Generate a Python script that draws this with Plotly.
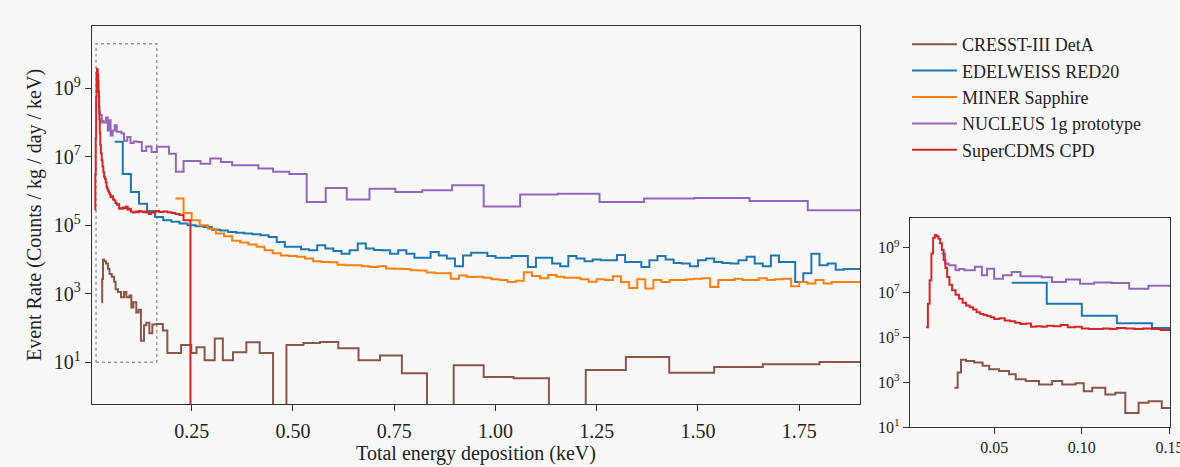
import plotly.graph_objects as go

# ---------------- data (bin edges in keV, log10 of event rate; None = empty bin) -------------
series_names = ["CRESST-III DetA", "EDELWEISS RED20", "MINER Sapphire",
                "NUCLEUS 1g prototype", "SuperCDMS CPD"]
series_colors = ["#8c564b", "#1f77b4", "#ff7f0e", "#9467bd", "#d62728"]

cresst_edges = [0.0273, 0.0292, 0.0311, 0.0339, 0.0386, 0.0434, 0.0472, 0.0528, 0.0585, 0.0623,
                0.068, 0.0756, 0.0831, 0.0888, 0.0964, 0.1011, 0.1059, 0.1134, 0.1191, 0.1248,
                0.1324, 0.1381, 0.1456, 0.153, 0.163, 0.179, 0.190, 0.224, 0.249, 0.262,
                0.282, 0.307, 0.327, 0.352, 0.385, 0.418, 0.451, 0.484, 0.526, 0.567,
                0.612, 0.662, 0.715, 0.769, 0.831, 0.897, 0.971, 1.045, 1.132, 1.223,
                1.322, 1.429, 1.540, 1.660, 1.800, 1.950]
cresst_log_rate = [2.75, 3.43, 4.00, 3.95, 3.88, 3.73, 3.58, 3.50, 3.35, 3.13,
                   3.05, 2.90, 3.05, 2.90, 2.95, 2.60, 2.75, 2.45, 2.53, 1.63,
                   2.08, 2.15, 1.85, 2.10, 2.12, 1.93, 1.27, 1.50, 1.27, 1.44,
                   1.06, 1.69, 1.06, 1.29, 1.58, 1.27, None, 1.50, 1.56, 1.59,
                   1.41, 1.06, 1.20, 0.68, None, 0.91, 0.57, 0.53, None, 0.77,
                   1.15, 0.69, 0.86, 0.94, 1.01]

edelweiss_edges = [0.06, 0.08, 0.10, 0.12, 0.14, 0.16, 0.18, 0.20, 0.22, 0.24,
                   0.26, 0.28, 0.30, 0.32, 0.34, 0.36, 0.38, 0.40, 0.42, 0.44,
                   0.46, 0.48, 0.50, 0.52, 0.54, 0.56, 0.58, 0.60, 0.62, 0.64,
                   0.66, 0.68, 0.70, 0.72, 0.74, 0.76, 0.78, 0.80, 0.82, 0.84,
                   0.86, 0.88, 0.90, 0.92, 0.94, 0.96, 0.98, 1.00, 1.02, 1.04,
                   1.06, 1.08, 1.10, 1.12, 1.14, 1.16, 1.18, 1.20, 1.22, 1.24,
                   1.26, 1.28, 1.30, 1.32, 1.34, 1.36, 1.38, 1.40, 1.42, 1.44,
                   1.46, 1.48, 1.50, 1.52, 1.54, 1.56, 1.58, 1.60, 1.62, 1.64,
                   1.66, 1.68, 1.70, 1.72, 1.74, 1.76, 1.78, 1.80, 1.82, 1.84,
                   1.86, 1.88, 1.90]
edelweiss_log_rate = [7.44, 6.50, 5.97, 5.63, 5.42, 5.24, 5.15, 5.10, 5.05, 5.00,
                      4.97, 4.95, 4.87, 4.85, 4.80, 4.78, 4.76, 4.74, 4.71, 4.66,
                      4.51, 4.37, 4.37, 4.30, 4.27, 4.42, 4.32, 4.25, 4.17, 4.27,
                      4.47, 4.32, 4.28, 4.27, 4.17, 4.27, 4.17, 4.05, 4.05, 4.22,
                      4.12, 4.03, 3.80, 4.12, 4.20, 4.20, 4.10, 4.05, 4.05, 4.10,
                      4.10, 3.78, 4.05, 4.05, 3.88, 3.80, 4.10, 4.03, 3.95, 4.00,
                      3.98, 3.98, 4.13, 3.93, 3.93, 3.78, 3.98, 4.10, 4.00, 3.90,
                      3.88, 3.80, 3.98, 4.03, 3.93, 3.90, 3.88, 3.98, 4.08, 3.88,
                      3.80, 4.12, 3.93, 3.93, 3.34, 3.60, 4.17, 3.83, 3.88, 3.70,
                      3.72, 3.72]

miner_edges = [0.21, 0.23, 0.25, 0.27, 0.29, 0.31, 0.33, 0.35, 0.37, 0.39,
               0.41, 0.43, 0.45, 0.47, 0.49, 0.51, 0.53, 0.55, 0.57, 0.59,
               0.61, 0.63, 0.65, 0.67, 0.69, 0.71, 0.73, 0.75, 0.77, 0.79,
               0.81, 0.83, 0.85, 0.87, 0.89, 0.91, 0.93, 0.95, 0.97, 0.99,
               1.01, 1.03, 1.05, 1.07, 1.09, 1.11, 1.13, 1.15, 1.17, 1.19,
               1.21, 1.23, 1.25, 1.27, 1.29, 1.31, 1.33, 1.35, 1.37, 1.39,
               1.41, 1.43, 1.45, 1.47, 1.49, 1.51, 1.53, 1.55, 1.57, 1.59,
               1.61, 1.63, 1.65, 1.67, 1.69, 1.71, 1.73, 1.75, 1.77, 1.79,
               1.81, 1.83, 1.85, 1.87, 1.89, 1.91]
miner_log_rate = [5.78, 5.36, 5.15, 5.00, 4.90, 4.76, 4.68, 4.55, 4.50, 4.44,
                  4.37, 4.27, 4.18, 4.12, 4.10, 4.08, 4.03, 3.95, 3.93, 3.92,
                  3.85, 3.83, 3.83, 3.80, 3.78, 3.80, 3.74, 3.73, 3.72, 3.69,
                  3.68, 3.62, 3.60, 3.60, 3.44, 3.53, 3.49, 3.50, 3.47, 3.42,
                  3.40, 3.34, 3.38, 3.63, 3.52, 3.45, 3.55, 3.50, 3.47, 3.47,
                  3.42, 3.35, 3.42, 3.40, 3.51, 3.34, 3.17, 3.42, 3.15, 3.40,
                  3.34, 3.40, 3.40, 3.42, 3.44, 3.45, 3.20, 3.40, 3.40, 3.44,
                  3.40, 3.40, 3.45, 3.40, 3.42, 3.44, 3.22, 3.34, 3.30, 3.40,
                  3.30, 3.34, 3.34, 3.34, 3.34]

nucleus_edges = [0.020, 0.022, 0.024, 0.026, 0.028, 0.030, 0.033, 0.036, 0.039, 0.043,
                 0.046, 0.050, 0.055, 0.060, 0.065, 0.070, 0.077, 0.083, 0.091, 0.099,
                 0.107, 0.117, 0.127, 0.138, 0.151, 0.164, 0.178, 0.194, 0.211, 0.230,
                 0.250, 0.272, 0.296, 0.322, 0.350, 0.381, 0.415, 0.451, 0.491, 0.534,
                 0.581, 0.633, 0.689, 0.753, 0.819, 0.893, 0.971, 1.061, 1.153, 1.257,
                 1.367, 1.491, 1.627, 1.771, 1.930]
nucleus_log_rate = [8.75, 8.30, 8.22, 8.22, 8.00, 8.05, 8.00, 8.00, 8.15, 7.77,
                    8.07, 7.62, 7.77, 7.92, 7.73, 7.73, 7.68, 7.47, 7.58, 7.40,
                    7.45, 7.43, 7.17, 7.30, 7.14, 7.29, 7.29, 7.09, 6.56, 6.88,
                    6.88, 6.80, 6.95, 6.85, 6.75, 6.75, 6.66, 6.56, 6.50, 5.68,
                    6.09, 5.75, 6.07, 5.97, 6.02, 6.17, 5.55, 5.90, 5.92, 5.68,
                    5.78, 5.80, 5.71, 5.44]

supercdms_edges = [0.0112, 0.0122, 0.0132, 0.0142, 0.0152, 0.0162, 0.0172, 0.0182, 0.0192, 0.0202,
                   0.0212, 0.0222, 0.0232, 0.0245, 0.026, 0.028, 0.030, 0.032, 0.034, 0.036,
                   0.038, 0.040, 0.042, 0.044, 0.046, 0.048, 0.050, 0.053, 0.056, 0.059,
                   0.062, 0.065, 0.068, 0.071, 0.074, 0.077, 0.080, 0.084, 0.088, 0.092,
                   0.096, 0.100, 0.104, 0.108, 0.112, 0.116, 0.120, 0.125, 0.130, 0.135,
                   0.140, 0.145, 0.150, 0.160, 0.170, 0.180, 0.190, 0.200, 0.210, 0.220,
                   0.230, 0.247, 0.260]
supercdms_log_rate = [5.45, 6.50, 7.55, 8.75, 9.45, 9.57, 9.52, 9.40, 9.20, 8.90,
                      8.45, 8.10, 7.70, 7.35, 7.10, 6.90, 6.72, 6.55, 6.42, 6.35,
                      6.25, 6.12, 6.05, 6.00, 5.95, 5.90, 5.82, 5.85, 5.75, 5.72,
                      5.65, 5.60, 5.62, 5.48, 5.50, 5.48, 5.52, 5.50, 5.55, 5.45,
                      5.48, 5.40, 5.37, 5.38, 5.40, 5.38, 5.42, 5.40, 5.38, 5.40,
                      5.37, 5.33, 5.37, 5.42, 5.39, 5.40, 5.38, 5.36, 5.33, 5.30,
                      5.15, None]

# zoom box drawn on the main panel (region shown in the inset)
zoom_box_x = [0.014, 0.164]
zoom_box_y = [1e1, 2e10]

main_xticks = [0.25, 0.50, 0.75, 1.00, 1.25, 1.50, 1.75]
main_xticklabels = ["0.25", "0.50", "0.75", "1.00", "1.25", "1.50", "1.75"]
inset_xticks = [0.05, 0.10, 0.15]
inset_xticklabels = ["0.05", "0.10", "0.15"]
yticks = [1e1, 1e3, 1e5, 1e7, 1e9]
yticklabels = ["10<sup>1</sup>", "10<sup>3</sup>", "10<sup>5</sup>", "10<sup>7</sup>", "10<sup>9</sup>"]

# ---------------- figure -------------
FLOOR = 1e-3  # empty bins fall below the visible range (as on a log axis)
W, H = 1180, 467
FONT = "Liberation Serif, Times New Roman, serif"

all_edges = [cresst_edges, edelweiss_edges, miner_edges, nucleus_edges, supercdms_edges]
all_logs = [cresst_log_rate, edelweiss_log_rate, miner_log_rate, nucleus_log_rate, supercdms_log_rate]


def step_xy(edges, logs):
    ys = [10 ** v if v is not None else FLOOR for v in logs]
    return list(edges), ys + [ys[-1]]


fig = go.Figure()

fig.add_trace(go.Scatter(
    x=[zoom_box_x[0], zoom_box_x[1], zoom_box_x[1], zoom_box_x[0], zoom_box_x[0]],
    y=[zoom_box_y[0], zoom_box_y[0], zoom_box_y[1], zoom_box_y[1], zoom_box_y[0]],
    mode="lines", line=dict(color="#9a9a9a", width=1.4, dash="dot"),
    showlegend=False, hoverinfo="skip", xaxis="x", yaxis="y"))

for name, color, edges, logs in zip(series_names, series_colors, all_edges, all_logs):
    xs, ys = step_xy(edges, logs)
    fig.add_trace(go.Scatter(x=xs, y=ys, mode="lines", line_shape="hv",
                             line=dict(color=color, width=2), name=name,
                             xaxis="x", yaxis="y"))
for name, color, edges, logs in zip(series_names, series_colors, all_edges, all_logs):
    xs, ys = step_xy(edges, logs)
    fig.add_trace(go.Scatter(x=xs, y=ys, mode="lines", line_shape="hv",
                             line=dict(color=color, width=2), name=name,
                             showlegend=False, xaxis="x2", yaxis="y2"))

axis_common = dict(showgrid=False, zeroline=False, showline=True, mirror=True,
                   linecolor="#333333", linewidth=1.3, ticks="outside",
                   tickcolor="#333333", ticklen=6, tickwidth=1.2, automargin=False)

fig.update_layout(
    width=W, height=H,
    margin=dict(l=0, r=0, t=0, b=0),
    paper_bgcolor="#f8f8f8", plot_bgcolor="#f8f8f8",
    font=dict(family=FONT, size=20, color="#222222"),
    xaxis=dict(domain=[92 / W, 860 / W], range=[0.004, 1.9], anchor="y",
               tickmode="array", tickvals=main_xticks, ticktext=main_xticklabels,
               ticklabelstandoff=3,
               title=dict(text="Total energy deposition (keV)", standoff=0,
                          font=dict(size=20)),
               **axis_common),
    yaxis=dict(domain=[1 - 404 / H, 1 - 26 / H], type="log", range=[-0.22, 10.82], anchor="x",
               tickmode="array", tickvals=yticks, ticktext=yticklabels,
               title=dict(text="Event Rate (Counts / kg / day / keV)", standoff=6,
                          font=dict(size=20)),
               **axis_common),
    xaxis2=dict(domain=[910 / W, 1170 / W], range=[0.002, 0.1503], anchor="y2",
                tickmode="array", tickvals=inset_xticks, ticktext=inset_xticklabels,
                tickfont=dict(size=16), ticklabeloverflow="allow", **axis_common),
    yaxis2=dict(domain=[1 - 427 / H, 1 - 218 / H], type="log", range=[1, 10.33], anchor="x2",
                tickmode="array", tickvals=yticks, ticktext=yticklabels,
                tickfont=dict(size=16), **axis_common),
    legend=dict(x=907 / W, y=1 - 26 / H, xanchor="left", yanchor="top",
                bgcolor="rgba(0,0,0,0)", font=dict(size=18, family=FONT),
                itemwidth=45, tracegroupgap=0),
    showlegend=True,
)

fig.write_html("out.html")
